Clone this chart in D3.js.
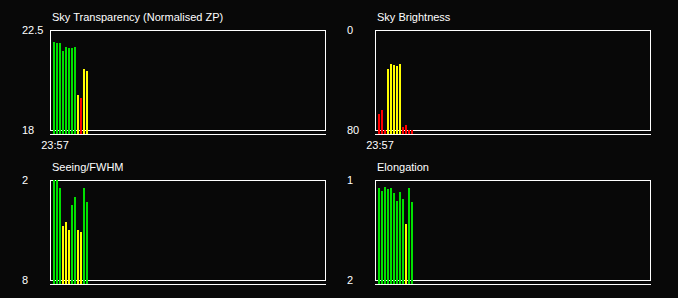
<!DOCTYPE html>
<html>
<head>
<meta charset="utf-8">
<script src="https://cdn.jsdelivr.net/npm/d3@7/dist/d3.min.js"></script>
<style>
html, body { margin: 0; padding: 0; background: #080808; }
svg { display: block; }
text { font-family: Arial, "Liberation Sans", sans-serif; font-size: 11px; fill: #ffffff; }
</style>
</head>
<body>
<svg id="chart" width="678" height="298"></svg>
<script>
// ---- data ----
const times = ["23:57","23:59","00:01","00:03","00:05","00:07","00:09","00:11","00:13","00:15","00:17","00:19"];
const xTickLabels = ["23:57"];

const transparency = [21.96, 21.92, 21.92, 21.56, 21.74, 21.69, 21.69, 21.74, 19.58, 19.44, 20.75, 20.66];
const transparencyFlags = ["g","g","g","g","g","g","g","g","y","r","y","y"];
const transparencyTicks = ["22.5", "18"];

const brightness = [67.2, 64.0, 80.0, 31.2, 27.2, 28.0, 28.8, 27.2, 77.6, 76.0, 80.0, 80.0];
const brightnessFlags = ["r","r","r","y","y","y","y","y","r","r","r","r"];
const brightnessTicks = ["0", "80"];

const seeing = [2.0, 2.0, 2.48, 4.76, 4.52, 5.0, 3.5, 3.02, 5.0, 5.12, 2.48, 3.32];
const seeingFlags = ["g","g","g","y","y","y","g","g","y","y","g","g"];
const seeingTicks = ["2", "8"];

const elongation = [1.08, 1.11, 1.07, 1.09, 1.08, 1.13, 1.21, 1.12, 1.19, 1.44, 1.08, 1.22];
const elongationFlags = ["g","g","g","g","g","g","g","g","g","y","g","g"];
const elongationTicks = ["1", "2"];

const titles = ["Sky Transparency (Normalised ZP)", "Sky Brightness", "Seeing/FWHM", "Elongation"];

// ---- layout ----
const panels = [
  { title: titles[0], values: transparency, flags: transparencyFlags, ticks: transparencyTicks, left: 50, top: 30, xlabel: true },
  { title: titles[1], values: brightness, flags: brightnessFlags, ticks: brightnessTicks, left: 375, top: 30, xlabel: true },
  { title: titles[2], values: seeing, flags: seeingFlags, ticks: seeingTicks, left: 50, top: 180, xlabel: false },
  { title: titles[3], values: elongation, flags: elongationFlags, ticks: elongationTicks, left: 375, top: 180, xlabel: false }
];
const W = 275, H = 100, gap = 4;

const parse = d3.timeParse("%Y-%m-%d %H:%M");
const dates = times.map((t, i) => {
  const day = (t >= "12:00") ? "2020-01-01" : "2020-01-02";
  return parse(day + " " + t);
});
const t0 = new Date(dates[0].getTime() - 2 * 60000);
const t1 = new Date(t0.getTime() + (W / 3) * 2 * 60000);

const color = d3.scaleOrdinal().domain(["g","y","r"]).range(["#00e000","#ffff00","#ff0000"]);
const svg = d3.select("#chart");

panels.forEach(p => {
  const g = svg.append("g");
  const x = d3.scaleTime().domain([t0, t1]).range([p.left, p.left + W]);
  const topVal = +p.ticks[0], botVal = +p.ticks[1];
  const y = d3.scaleLinear().domain([botVal, topVal]).range([p.top + H, p.top]).clamp(true);
  const base = p.top + H + gap;

  g.append("text").attr("x", p.left + 2).attr("y", p.top - 9).text(p.title);

  g.append("rect")
    .attr("x", p.left + 0.5).attr("y", p.top + 0.5)
    .attr("width", W).attr("height", H)
    .attr("fill", "none").attr("stroke", "#fff").attr("stroke-width", 1);
  g.append("line")
    .attr("x1", p.left).attr("x2", p.left + W + 1)
    .attr("y1", base + 0.5).attr("y2", base + 0.5)
    .attr("stroke", "#fff").attr("stroke-width", 1);

  // y tick labels
  g.selectAll("text.ytick").data(p.ticks).enter().append("text")
    .attr("class", "ytick")
    .attr("x", p.left - 28)
    .attr("y", d => Math.round(y(+d)) + 4)
    .text(d => d);

  // bars
  g.selectAll("rect.bar").data(p.values).enter().append("rect")
    .attr("class", "bar")
    .attr("x", (d, i) => Math.round(x(dates[i])))
    .attr("y", d => Math.round(y(d)))
    .attr("width", 2)
    .attr("height", d => base - Math.round(y(d)))
    .attr("fill", (d, i) => color(p.flags[i]));

  if (p.xlabel) {
    g.selectAll("text.xtick").data(xTickLabels).enter().append("text")
      .attr("class", "xtick")
      .attr("x", d => Math.round(x(dates[times.indexOf(d)])) + 2)
      .attr("y", base + 15)
      .attr("text-anchor", "middle")
      .text(d => d);
  }
});
</script>
</body>
</html>
